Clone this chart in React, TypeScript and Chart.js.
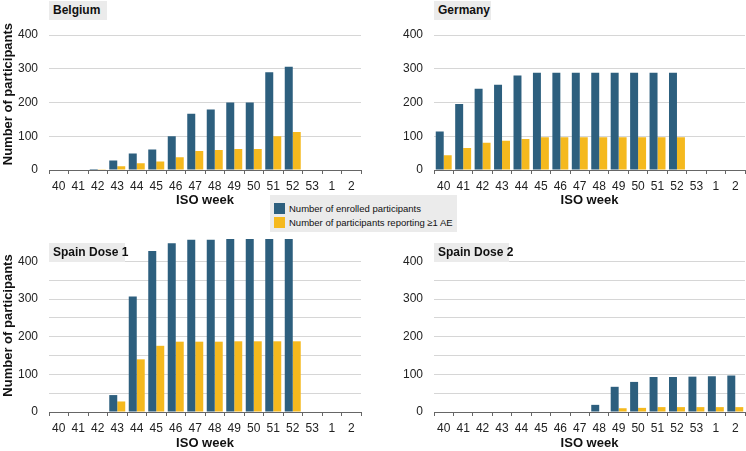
import React, { useEffect, useRef } from 'react';
import { Chart, registerables } from 'chart.js';

Chart.register(...registerables);

const FONT = "'Liberation Sans', Arial, sans-serif";

const weeks = ['40', '41', '42', '43', '44', '45', '46', '47', '48', '49', '50', '51', '52', '53', '1', '2'];

const belgiumEnrolled = [null, null, 3, 28, 49, 61, 100, 167, 179, 200, 200, 290, 306, null, null, null];
const belgiumAE = [null, null, 2, 11, 20, 25, 38, 56, 59, 62, 62, 100, 113, null, null, null];

const germanyEnrolled = [114, 196, 241, 253, 280, 288, 288, 288, 288, 288, 288, 288, 288, null, null, null];
const germanyAE = [44, 65, 81, 87, 92, 97, 97, 97, 97, 97, 97, 97, 97, null, null, null];

const spain1Enrolled = [null, null, null, 45, 307, 428, 449, 458, 458, 460, 460, 460, 460, null, null, null];
const spain1AE = [null, null, null, 28, 140, 176, 187, 187, 187, 188, 188, 188, 188, null, null, null];

const spain2Enrolled = [null, null, null, null, null, null, null, null, 19, 67, 80, 93, 93, 94, 95, 97];
const spain2AE = [null, null, null, null, null, null, null, null, null, 10, 11, 13, 13, 13, 13, 13];

const seriesLabels = ['Number of enrolled participants', 'Number of participants reporting ≥1 AE'];
const BLUE = '#2d5f7e';
const YELLOW = '#f5b91e';

type PanelProps = {
  title: string;
  left: number;
  top: number;
  width: number;
  height: number;
  enrolled: (number | null)[];
  ae: (number | null)[];
  yMax: number;
  yWidth: number;
  showYTitle: boolean;
  padTop: number;
  padRight: number;
  xHeight: number;
  titleBoxWidth: number;
  titleBoxTop: number;
  titlePadBottom: number;
};

function Panel(p: PanelProps) {
  const ref = useRef<HTMLCanvasElement | null>(null);
  useEffect(() => {
    if (!ref.current) return;
    const chart = new Chart(ref.current, {
      type: 'bar',
      data: {
        labels: weeks,
        datasets: [
          { label: seriesLabels[0], data: p.enrolled, backgroundColor: BLUE, categoryPercentage: 0.82, barPercentage: 1 },
          { label: seriesLabels[1], data: p.ae, backgroundColor: YELLOW, categoryPercentage: 0.82, barPercentage: 1 },
        ],
      },
      options: {
        animation: false,
        responsive: false,
        maintainAspectRatio: false,
        layout: { padding: { left: 0, top: p.padTop, right: p.padRight, bottom: 0 } },
        plugins: { legend: { display: false }, tooltip: { enabled: false } },
        scales: {
          x: {
            grid: { display: true, drawOnChartArea: false, drawTicks: true, tickLength: 4, color: '#666', offset: true },
            border: { display: true, color: '#666', width: 1 },
            ticks: { font: { family: FONT, size: 12 }, color: '#222', padding: 5, maxRotation: 0, autoSkip: false },
            title: { display: true, text: 'ISO week', font: { family: FONT, size: 13, weight: 'bold' }, color: '#111', padding: { top: 0, bottom: p.titlePadBottom } },
            afterFit: (s: any) => { s.height = p.xHeight; },
          },
          y: {
            min: 0,
            max: p.yMax,
            grid: { color: '#d6d6d6', drawTicks: false, lineWidth: 1 },
            border: { display: false },
            ticks: {
              stepSize: 50,
              padding: 11,
              font: { family: FONT, size: 12 },
              color: '#222',
              callback: (v: any) => (Number(v) % 100 === 0 ? String(v) : ''),
            },
            afterBuildTicks: (s: any) => { s.ticks = s.ticks.filter((t: any) => t.value <= 450); },
            title: { display: p.showYTitle, text: 'Number of participants', font: { family: FONT, size: 13, weight: 'bold' }, color: '#111', padding: { top: 1, bottom: 0 } },
            afterFit: (s: any) => { s.width = p.yWidth; },
          },
        },
      },
    });
    return () => chart.destroy();
  }, []);
  return (
    <div style={{ position: 'absolute', left: p.left, top: p.top, width: p.width, height: p.height }}>
      <canvas ref={ref} width={p.width} height={p.height} style={{ width: p.width, height: p.height, display: 'block' }} />
      <div
        style={{
          position: 'absolute',
          left: p.yWidth,
          top: p.titleBoxTop,
          width: p.titleBoxWidth,
          height: 19,
          background: '#ebebeb',
          fontFamily: FONT,
          fontWeight: 'bold',
          fontSize: 12,
          lineHeight: '19px',
          color: '#111',
          paddingLeft: 4,
          boxSizing: 'border-box',
          whiteSpace: 'nowrap',
        }}
      >
        {p.title}
      </div>
    </div>
  );
}

function Legend() {
  const items = [BLUE, YELLOW];
  return (
    <div
      style={{
        position: 'absolute',
        left: 270,
        top: 195,
        width: 187,
        height: 37,
        background: '#ebebeb',
        zIndex: 5,
        fontFamily: FONT,
        fontSize: 9.5,
        color: '#111',
      }}
    >
      {items.map((c, i) => (
        <div key={i} style={{ position: 'absolute', left: 4, top: 7 + i * 14, height: 12, display: 'flex', alignItems: 'center', whiteSpace: 'nowrap' }}>
          <span style={{ display: 'inline-block', width: 11, height: 11, background: c, marginRight: 4 }} />
          <span>{seriesLabels[i]}</span>
        </div>
      ))}
    </div>
  );
}

export default function App() {
  return (
    <div style={{ position: 'fixed', left: 0, top: 0, width: 746, height: 451, background: '#fff', overflow: 'hidden' }}>
      <Panel title="Belgium" left={0} top={0} width={373} height={210} enrolled={belgiumEnrolled} ae={belgiumAE}
        yMax={450} yWidth={49} showYTitle={true} padTop={1} padRight={12} xHeight={40} titleBoxWidth={58} titleBoxTop={1} titlePadBottom={2} />
      <Panel title="Germany" left={373} top={0} width={373} height={210} enrolled={germanyEnrolled} ae={germanyAE}
        yMax={450} yWidth={61} showYTitle={false} padTop={1} padRight={1} xHeight={40} titleBoxWidth={57} titleBoxTop={1} titlePadBottom={2} />
      <Panel title="Spain Dose 1" left={0} top={220} width={373} height={231} enrolled={spain1Enrolled} ae={spain1AE}
        yMax={460} yWidth={49} showYTitle={true} padTop={19} padRight={12} xHeight={39} titleBoxWidth={76} titleBoxTop={23} titlePadBottom={0} />
      <Panel title="Spain Dose 2" left={373} top={220} width={373} height={231} enrolled={spain2Enrolled} ae={spain2AE}
        yMax={460} yWidth={61} showYTitle={false} padTop={19} padRight={1} xHeight={39} titleBoxWidth={75} titleBoxTop={23} titlePadBottom={0} />
      <Legend />
    </div>
  );
}
